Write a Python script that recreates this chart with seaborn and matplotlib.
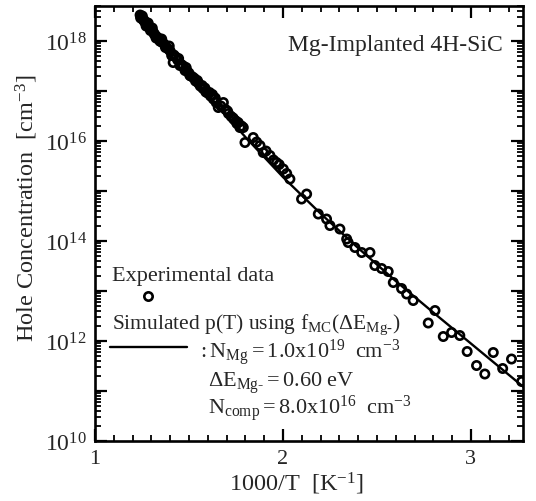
import numpy as np
import pandas as pd
import matplotlib
matplotlib.use("Agg")
import matplotlib.pyplot as plt
import matplotlib.ticker as mticker
import seaborn as sns

# ---- data ----
exp_x = [1.24, 1.245, 1.25, 1.255, 1.26, 1.265, 1.27, 1.275, 1.28, 1.29, 1.30, 1.31, 1.315, 1.32,
         1.33, 1.34, 1.35, 1.36, 1.37, 1.38, 1.39, 1.40, 1.408, 1.416, 1.43, 1.44, 1.452, 1.46,
         1.479, 1.49, 1.50, 1.51, 1.52, 1.535, 1.55, 1.56, 1.575, 1.59, 1.60, 1.615, 1.63, 1.645,
         1.656, 1.683, 1.695, 1.71, 1.725, 1.74, 1.75, 1.762, 1.771, 1.789,
         1.243, 1.252, 1.262, 1.272, 1.283, 1.295, 1.305, 1.325, 1.345, 1.355, 1.375, 1.395,
         1.42, 1.445, 1.47, 1.485, 1.505, 1.53, 1.545, 1.57, 1.585, 1.61, 1.625, 1.64, 1.67,
         1.705, 1.735, 1.755, 1.78,
         1.798, 1.842, 1.86, 1.878, 1.895, 1.91, 1.931, 1.95, 1.966, 1.98, 2.002, 2.02, 2.037,
         2.099, 2.126, 2.188, 2.232, 2.250, 2.303, 2.347,
         2.339, 2.383, 2.419, 2.463, 2.489, 2.525, 2.560, 2.587, 2.631, 2.658, 2.693,
         2.809, 2.773, 2.853, 2.897, 2.941, 2.980, 3.119, 3.030, 3.074, 3.169, 3.216, 3.27]
exp_log_p = [18.52, 18.48, 18.46, 18.43, 18.42, 18.38, 18.36, 18.33, 18.30, 18.27, 18.22, 18.18, 18.14, 18.12,
             18.08, 18.05, 17.99, 17.97, 17.93, 17.88, 17.84, 17.80, 17.71, 17.57, 17.68, 17.62, 17.51, 17.53,
             17.41, 17.40, 17.36, 17.30, 17.28, 17.20, 17.16, 17.10, 17.05, 16.98, 16.96, 16.90, 16.84, 16.77,
             16.67, 16.77, 16.63, 16.55, 16.49, 16.43, 16.40, 16.37, 16.27, 16.27,
             18.46, 18.50, 18.40, 18.30, 18.36, 18.21, 18.26, 18.06, 18.00, 18.04, 17.87, 17.90,
             17.72, 17.65, 17.50, 17.47, 17.31, 17.25, 17.21, 17.11, 17.06, 16.97, 16.93, 16.86, 16.70,
             16.60, 16.46, 16.35, 16.30,
             15.97, 16.07, 15.98, 15.91, 15.77, 15.80, 15.71, 15.62, 15.57, 15.53, 15.44, 15.35, 15.24,
             14.84, 14.94, 14.54, 14.44, 14.31, 14.24, 13.97,
             14.04, 13.87, 13.77, 13.77, 13.51, 13.45, 13.39, 13.17, 13.05, 12.94, 12.81,
             12.61, 12.36, 12.09, 12.17, 12.11, 11.79, 11.77, 11.51, 11.34, 11.45, 11.64, 11.19]

sim_x = [1.24, 1.4, 1.6, 1.8, 2.0, 2.2, 2.4, 2.6, 2.8, 3.0, 3.28]
sim_log_p = [18.5, 17.8, 16.93, 16.08, 15.28, 14.55, 13.86, 13.2, 12.57, 11.95, 11.08]

x_ticks = [1, 2, 3]
y_decades = list(range(10, 19))

exp_df = pd.DataFrame({"x": exp_x, "p": np.power(10.0, exp_log_p)})
sim_df = pd.DataFrame({"x": sim_x, "p": np.power(10.0, sim_log_p)})

# ---- style ----
sns.set_theme(style="ticks")
plt.rcParams["font.family"] = ["Liberation Serif", "DejaVu Serif"]
plt.rcParams["mathtext.fontset"] = "custom"
plt.rcParams["mathtext.rm"] = "Liberation Serif"
plt.rcParams["mathtext.it"] = "Liberation Serif:italic"
plt.rcParams["mathtext.bf"] = "Liberation Serif:bold"

fig = plt.figure(figsize=(5.36, 5.02), dpi=100)
ax = fig.add_axes([0.1772, 0.1195, 0.7985, 0.8665])

sns.lineplot(data=sim_df, x="x", y="p", ax=ax, color="black", linewidth=1.7, zorder=2)
sns.scatterplot(data=exp_df, x="x", y="p", ax=ax, marker="o", s=36, facecolor="none",
                edgecolor="black", linewidth=1.9, zorder=3)

ax.set_yscale("log")
ax.set_xlim(1, 3.277)
ax.set_ylim(1e10, 10 ** 18.7)

ax.xaxis.set_major_locator(mticker.FixedLocator(x_ticks))
ax.xaxis.set_minor_locator(mticker.MultipleLocator(0.1))
ax.xaxis.set_major_formatter(mticker.FormatStrFormatter("%d"))

ax.yaxis.set_major_locator(mticker.FixedLocator([10.0 ** d for d in y_decades]))
ax.yaxis.set_minor_locator(mticker.LogLocator(base=10, subs=np.arange(2, 10), numticks=50))
ax.yaxis.set_minor_formatter(mticker.NullFormatter())


def yfmt(v, pos):
    e = int(round(np.log10(v)))
    return r"$\mathregular{10^{%d}}$" % e if e % 2 == 0 else ""


ax.yaxis.set_major_formatter(mticker.FuncFormatter(yfmt))

ax.tick_params(which="both", direction="in", top=True, right=True, color="black")
ax.tick_params(which="major", length=8.5, width=1.6)
ax.tick_params(which="minor", length=4, width=1.3)
ax.tick_params(axis="y", which="major", labelsize=17, pad=6)
ax.tick_params(axis="x", which="major", labelsize=16, pad=6)
for s in ax.spines.values():
    s.set_linewidth(1.9)
    s.set_color("black")

ax.set_xlabel(r"1000/T  [K$^{\mathregular{-1}}$]", fontsize=17.5)
ax.set_ylabel(r"Hole Concentration  [cm$^{\mathregular{-3}}$]", fontsize=17.5)
ax.xaxis.set_label_coords(0.47, -0.066)
ax.yaxis.set_label_coords(-0.128, 0.538)

ax.text(0.953, 0.90, "Mg-Implanted 4H-SiC", transform=ax.transAxes, ha="right", va="baseline", fontsize=17)

# legend (manual, as in the reference)
ax.text(0.040, 0.370, "Experimental data", transform=ax.transAxes, ha="left", va="baseline", fontsize=16)
ax.plot([0.124], [0.333], transform=ax.transAxes, marker="o", ms=6, mfc="none", mec="black", mew=1.9,
        clip_on=False, zorder=4)
ax.text(0.040, 0.259,
        r"Simulated p(T) using f$_{\mathregular{MC}}$($\mathregular{\Delta}$E$_{\mathregular{Mg\text{-}}}$)",
        transform=ax.transAxes, ha="left", va="baseline", fontsize=15.5)
ax.plot([0.035, 0.215], [0.216, 0.216], transform=ax.transAxes, color="black", linewidth=1.7)
ax.text(0.238, 0.194, r"$\mathregular{:N_{Mg} = 1.0x10^{19}\ \ cm^{-3}}$", transform=ax.transAxes,
        ha="left", va="baseline", fontsize=16)
ax.text(0.264, 0.127, r"$\mathregular{\Delta E_{Mg\text{-}} = 0.60\ eV}$", transform=ax.transAxes,
        ha="left", va="baseline", fontsize=16)
ax.text(0.264, 0.064, r"$\mathregular{N_{comp} = 8.0x10^{16}\ \ cm^{-3}}$", transform=ax.transAxes,
        ha="left", va="baseline", fontsize=16)

fig.savefig("out.png", dpi=100)
